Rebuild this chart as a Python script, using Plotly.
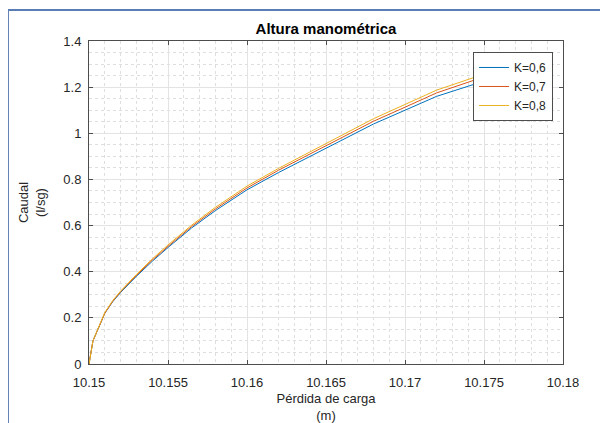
import plotly.graph_objects as go

# Data
perdida_carga = [10.15, 10.15025, 10.1505, 10.151, 10.1515, 10.152, 10.153, 10.154,
                 10.155, 10.1565, 10.158, 10.16, 10.162, 10.164, 10.166, 10.168,
                 10.17, 10.172, 10.1745]
caudal_k06 = [0.0, 0.10, 0.14, 0.22, 0.27, 0.31, 0.38, 0.445,
              0.505, 0.59, 0.665, 0.755, 0.83, 0.90, 0.97, 1.04,
              1.10, 1.16, 1.215]
caudal_k07 = [0.0, 0.10, 0.14, 0.22, 0.272, 0.313, 0.384, 0.45,
              0.51, 0.596, 0.672, 0.763, 0.84, 0.91, 0.981, 1.052,
              1.113, 1.175, 1.233]
caudal_k08 = [0.0, 0.10, 0.142, 0.223, 0.275, 0.316, 0.388, 0.455,
              0.516, 0.602, 0.679, 0.771, 0.848, 0.919, 0.991, 1.063,
              1.125, 1.187, 1.245]
series_names = ["K=0,6", "K=0,7", "K=0,8"]
series_colors = ["#0072BD", "#D95319", "#EDB120"]

x_ticks = [10.15, 10.155, 10.16, 10.165, 10.17, 10.175, 10.18]
x_ticklabels = ["10.15", "10.155", "10.16", "10.165", "10.17", "10.175", "10.18"]
y_ticks = [0, 0.2, 0.4, 0.6, 0.8, 1.0, 1.2, 1.4]
y_ticklabels = ["0", "0.2", "0.4", "0.6", "0.8", "1", "1.2", "1.4"]

FONT = "Liberation Sans, Arial, sans-serif"
TXT = "#262626"

fig = go.Figure()
for name, ys, col in zip(series_names, [caudal_k06, caudal_k07, caudal_k08], series_colors):
    fig.add_trace(go.Scatter(x=perdida_carga, y=ys, mode="lines", name=name,
                             line=dict(color=col, width=1)))

axis_common = dict(
    showline=True, linecolor="#4d4d4d", linewidth=1, mirror="ticks",
    ticks="inside", ticklen=4, tickcolor="#4d4d4d",
    showgrid=True, gridcolor="#e3e3e3", gridwidth=1,
    zeroline=False,
    tickfont=dict(family=FONT, size=13, color=TXT),
)

fig.update_xaxes(
    range=[10.15, 10.18], tickvals=x_ticks, ticktext=x_ticklabels,
    minor=dict(dtick=0.001, tick0=10.15, showgrid=True, gridcolor="#dedede",
               griddash="dot", ticks=""),
    title=dict(text="Pérdida de carga<br>(m)", font=dict(family=FONT, size=13, color=TXT),
               standoff=7),
    ticklabelstandoff=6,
    **axis_common,
)
fig.update_yaxes(
    range=[0, 1.4], tickvals=y_ticks, ticktext=y_ticklabels,
    minor=dict(dtick=0.05, tick0=0, showgrid=True, gridcolor="#dedede",
               griddash="dot", ticks=""),
    title=dict(text="Caudal<br>(l/sg)", font=dict(family=FONT, size=13, color=TXT),
               standoff=14),
    ticklabelstandoff=4,
    **axis_common,
)

# the page body adds an 8px offset, so the figure is 8px smaller and margins shifted
fig.update_layout(
    width=600, height=415,
    margin=dict(l=81, r=45, t=33, b=59, autoexpand=False),
    paper_bgcolor="white", plot_bgcolor="white",
    title=dict(text="<b>Altura manométrica</b>", x=0.5, xref="paper", xanchor="center",
               y=1, yref="paper", yanchor="bottom", pad=dict(b=7),
               font=dict(family=FONT, size=15, color="black")),
    legend=dict(x=0.979, y=0.966, xanchor="right", yanchor="top",
                bgcolor="white", bordercolor="#4d4d4d", borderwidth=1,
                font=dict(family=FONT, size=12, color=TXT),
                tracegroupgap=0, itemwidth=30, entrywidth=62),
    showlegend=True,
    shapes=[
        dict(type="line", xref="paper", yref="paper", x0=-0.171, x1=1.1,
             y0=1.096, y1=1.096, line=dict(color="#5b7db5", width=2)),
        dict(type="line", xref="paper", yref="paper", x0=-0.171, x1=-0.171,
             y0=1.096, y1=-0.2, line=dict(color="#5b7db5", width=2)),
    ],
)

fig.write_html("out.html")
